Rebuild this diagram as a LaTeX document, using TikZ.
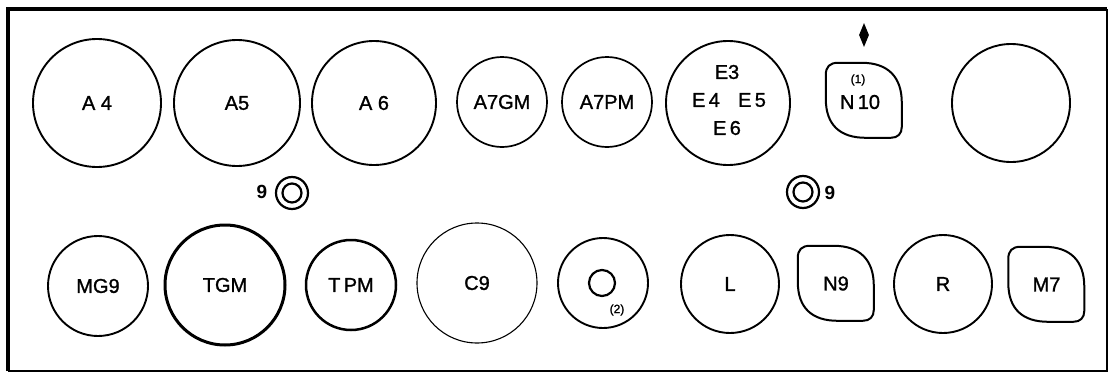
\documentclass[tikz,border=0pt]{standalone}
\usepackage{fontspec}
\setmainfont{Liberation Sans}
\newfontfamily\labfont[FakeBold=1.2]{Liberation Sans}
\usetikzlibrary{shapes.geometric}
\tikzset{
  every picture/.style={x=1pt,y=-1pt},
  ring/.style={circle,draw,line width=1.9pt,inner sep=0pt,font=\labfont\fontsize{20}{20}\selectfont},
  leafbox/.style={rectangle,draw=none,minimum width=76pt,minimum height=75pt,inner sep=0pt,font=\labfont\fontsize{20}{20}\selectfont},
  leafline/.style={line width=2pt,line join=round},
  small/.style={font=\labfont\fontsize{12}{12}\selectfont,inner sep=0pt},
  nine/.style={font=\bfseries\fontsize{19}{19}\selectfont,inner sep=0pt},
  lab/.style={font=\labfont\fontsize{20}{20}\selectfont,inner sep=0pt}
}
\newcommand\leafnode[3]{%
  \node[leafbox] (#1) at #2 {#3};
  \begin{scope}[shift={(#1.north west)}]
    \draw[leafline] (0,12) -- (0,36) .. controls (0,62) and (14,75) .. (40,75)
      -- (65,75) .. controls (72,75) and (76,71) .. (76,64)
      -- (76,40) .. controls (76,14) and (62,0) .. (36,0)
      -- (12,0) .. controls (4,0) and (0,4) .. (0,12) -- cycle;
  \end{scope}}
\begin{document}
\begin{tikzpicture}
\useasboundingbox (0,0) rectangle (1109,378);
% frame
\coordinate (fnw) at (8,9);
\coordinate (fne) at (1107,9);
\coordinate (fse) at (1107,371);
\coordinate (fsw) at (8,371);
\draw[line width=3.5pt] (fsw) -- (fnw) -- (fne);
\draw[line width=1.5pt] (fne) -- (fse) -- (fsw);
% top row
\node[ring,minimum size=128pt] (a4) at (97,103) {A 4};
\node[ring,minimum size=126pt] (a5) at (237,103) {A5};
\node[ring,minimum size=124pt] (a6) at (374,103) {A 6};
\node[ring,minimum size=90pt,line width=1.7pt] (a7gm) at (502,102) {A7GM};
\node[ring,minimum size=90pt,line width=1.7pt] (a7pm) at (607,102) {A7PM};
\node[ring,minimum size=124pt] (e) at (728,103) {};
\node[lab] (e3) at (727,72) {E3};
\node[lab] (e4) at (706,100) {E\,4};
\node[lab] (e5) at (752,100) {E\,5};
\node[lab] (e6) at (727,128) {E\,6};
\leafnode{n10}{(864,100.5)}{}
\node[small] (one) at (858,80) {(1)};
\node[lab] (n10t) at (860,102) {N\,10};
\node[diamond,fill=black,inner sep=0pt,minimum width=10pt,minimum height=24pt] (dia) at (864,35) {};
\node[ring,minimum size=118pt] (blank) at (1011,103) {};
% small double rings
\node[circle,draw,line width=2.2pt,minimum size=32pt,inner sep=0pt] (d1) at (292,193) {};
\node[circle,draw,line width=2.2pt,minimum size=19pt,inner sep=0pt] (d1i) at (292,193) {};
\node[nine] (n1) at (262,192) {9};
\node[circle,draw,line width=2.2pt,minimum size=32pt,inner sep=0pt] (d2) at (803,192) {};
\node[circle,draw,line width=2.2pt,minimum size=19pt,inner sep=0pt] (d2i) at (803,192) {};
\node[nine] (n2) at (830,193) {9};
% bottom row
\node[ring,minimum size=100pt] (mg9) at (98,286) {MG9};
\node[ring,minimum size=120pt,line width=3pt] (tgm) at (225,285) {TGM};
\node[ring,minimum size=90pt,line width=2.5pt] (tpm) at (351,285) {T\,PM};
\node[ring,minimum size=120pt,line width=1.1pt] (c9) at (477,283) {C9};
\node[ring,minimum size=90pt] (hole) at (603,283) {};
\node[circle,draw,line width=2.2pt,minimum size=26pt,inner sep=0pt] (holei) at (602,283) {};
\node[small] (two) at (617,310) {(2)};
\node[ring,minimum size=98pt] (l) at (730,284) {L};
\leafnode{n9}{(836,283.5)}{N9}
\node[ring,minimum size=98pt] (r) at (943,284) {R};
\leafnode{m7}{(1046.5,284.5)}{M7}
\end{tikzpicture}
\end{document}
